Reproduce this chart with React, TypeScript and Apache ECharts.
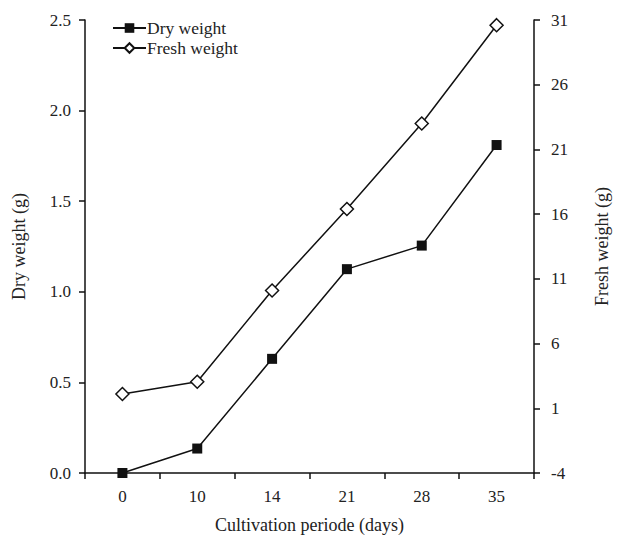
import React, { useEffect, useRef } from "react";
import * as echarts from "echarts";

const categories = ["0", "10", "14", "21", "28", "35"];
const dryWeight = [0.0, 0.135, 0.63, 1.125, 1.255, 1.81];
const freshWeight = [2.1, 3.05, 10.1, 16.4, 23.0, 30.6];

const FONT = "'Liberation Serif', 'Times New Roman', serif";

export default function App() {
  const ref = useRef<HTMLDivElement>(null);
  useEffect(() => {
    if (!ref.current) return;
    const chart = echarts.init(ref.current, undefined, { renderer: "svg" });
    const axisLine = { show: true, lineStyle: { color: "#111", width: 1.5 } };
    const axisTick = { show: true, inside: false, length: 6, lineStyle: { color: "#111", width: 1.5 } };
    const axisLabel = { color: "#222", fontFamily: FONT, fontSize: 17 };
    const nameStyle = { color: "#222", fontFamily: FONT, fontSize: 18 };
    chart.setOption({
      animation: false,
      backgroundColor: "#fff",
      textStyle: { fontFamily: FONT },
      grid: { left: 85, right: 75, top: 20, bottom: 63 },
      legend: {
        left: 107,
        top: 14,
        orient: "vertical",
        itemGap: 2,
        itemWidth: 33,
        itemHeight: 12,
        textStyle: { color: "#222", fontFamily: FONT, fontSize: 17.5, lineHeight: 18, padding: [0, 0, 0, -4] },
        data: ["Dry weight", "Fresh weight"],
      },
      xAxis: {
        type: "category",
        data: categories,
        boundaryGap: true,
        axisLine,
        axisTick: { ...axisTick, alignWithLabel: false },
        axisLabel: { ...axisLabel, margin: 15 },
        splitLine: { show: false },
        name: "Cultivation periode (days)",
        nameLocation: "middle",
        nameGap: 43,
        nameTextStyle: nameStyle,
      },
      yAxis: [
        {
          type: "value",
          min: 0,
          max: 2.5,
          interval: 0.5,
          axisLine,
          axisTick,
          axisLabel: { ...axisLabel, margin: 14, formatter: (v: number) => v.toFixed(1) },
          splitLine: { show: false },
          name: "Dry weight (g)",
          nameLocation: "middle",
          nameRotate: 90,
          nameGap: 57,
          nameTextStyle: nameStyle,
        },
        {
          type: "value",
          position: "right",
          min: -4,
          max: 31,
          interval: 5,
          axisLine,
          axisTick,
          axisLabel: { ...axisLabel, margin: 17 },
          splitLine: { show: false },
          name: "Fresh weight (g)",
          nameLocation: "middle",
          nameRotate: 90,
          nameGap: 59,
          nameTextStyle: nameStyle,
        },
      ],
      series: [
        {
          name: "Dry weight",
          type: "line",
          yAxisIndex: 0,
          data: dryWeight,
          symbol: "rect",
          symbolSize: 10,
          itemStyle: { color: "#111" },
          lineStyle: { color: "#111", width: 1.5 },
        },
        {
          name: "Fresh weight",
          type: "line",
          yAxisIndex: 1,
          data: freshWeight,
          symbol: "diamond",
          symbolSize: 13,
          itemStyle: { color: "#fff", borderColor: "#111", borderWidth: 1.5 },
          lineStyle: { color: "#111", width: 1.5 },
        },
      ],
    });
    return () => chart.dispose();
  }, []);
  return (
    <div
      ref={ref}
      style={{ position: "absolute", left: 0, top: 0, width: 619, height: 539 }}
    />
  );
}
